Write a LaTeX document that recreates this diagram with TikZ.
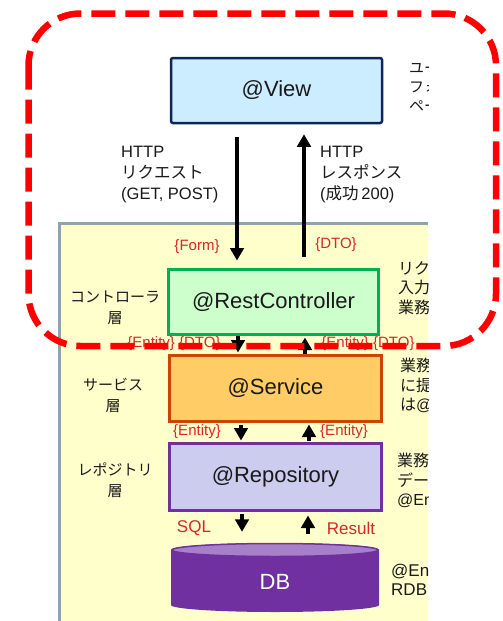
\documentclass[tikz,border=0pt]{standalone}
\usepackage{fontspec}
\setmainfont{Liberation Sans}
\newfontfamily\jp{Noto Sans CJK JP}
\usetikzlibrary{arrows.meta}

\definecolor{panelfill}{RGB}{255,255,204}
\definecolor{panelline}{RGB}{142,164,166}
\definecolor{viewfill}{RGB}{204,236,255}
\definecolor{viewline}{RGB}{12,38,90}
\definecolor{ctrlfill}{RGB}{204,255,204}
\definecolor{ctrlline}{RGB}{0,176,80}
\definecolor{svcfill}{RGB}{255,204,102}
\definecolor{svcline}{RGB}{204,68,0}
\definecolor{repofill}{RGB}{204,204,238}
\definecolor{repoline}{RGB}{112,48,160}
\definecolor{dbbody}{RGB}{112,48,160}
\definecolor{dbtop}{RGB}{166,128,200}
\definecolor{datared}{RGB}{210,40,40}
\definecolor{inktext}{RGB}{25,25,25}

\tikzset{
  layerbox/.style={draw, line width=3pt, minimum width=212pt, minimum height=66pt,
    inner sep=0pt, text=inktext, font=\fontsize{22}{26}\selectfont},
  arr/.style={line width=3.6pt, -{Triangle[length=12.5pt,width=13.5pt]}},
  datalbl/.style={text=datared, inner sep=0pt, font=\fontsize{15}{18}\selectfont},
  sqllbl/.style={text=datared, inner sep=0pt, font=\fontsize{17}{20}\selectfont},
  httplbl/.style={text=inktext, inner sep=0pt, anchor=north west, align=left,
    font=\fontsize{16.5}{21}\selectfont},
  layername/.style={text=inktext, inner sep=0pt, align=center,
    font=\jp\fontsize{15}{21}\selectfont},
  note/.style={text=inktext, inner sep=0pt, anchor=north west, align=left,
    font=\jp\fontsize{16}{19.5}\selectfont},
  reddash/.style={draw=red, line width=6.5pt, dash pattern=on 24pt off 10pt,
    rounded corners=52pt}
}

\begin{document}
\begin{tikzpicture}[x=1pt, y=-1pt]
\useasboundingbox (0,0) rectangle (503,621);
\fill[white] (0,0) rectangle (503,621);

% layer panel (cut off at the right and bottom)
\fill[panelfill] (59.5,223.5) rectangle (428,621);
\draw[panelline, line width=3pt] (428,223.5) -- (59.5,223.5) -- (59.5,621);

% boxes
\node[layerbox, draw=viewline, fill=viewfill, line width=2.5pt, rounded corners=2pt,
  minimum width=211pt, minimum height=65pt] (view) at (276.5,90.5) {@View};
\node[layerbox, draw=ctrlline, fill=ctrlfill, minimum width=210pt, minimum height=65pt]
  (rc) at (273.5,302) {@RestController};
\node[layerbox, draw=svcline, fill=svcfill] (svc) at (275.5,388.5) {@Service};
\node[layerbox, draw=repoline, fill=repofill, minimum height=67pt]
  (repo) at (275.5,477) {@Repository};

% database cylinder
\fill[dbbody] (171,550) -- (171,605)
  arc[x radius=104, y radius=7, start angle=180, end angle=0]
  -- (379,550)
  arc[x radius=104, y radius=7, start angle=0, end angle=-180] -- cycle;
\draw[dbbody, fill=dbtop, line width=1.5pt] (275,550) ellipse[x radius=103, y radius=6.5];
\node[inner sep=0pt, minimum width=208pt, minimum height=70pt] (db) at (275,578) {};
\node[text=white, inner sep=0pt, font=\fontsize{22}{26}\selectfont] (dbname) at (275,582) {DB};

% arrow columns
\coordinate (c1) at (237,0);
\coordinate (c2) at (304,0);
\coordinate (c3) at (238,0);
\coordinate (c4) at (305,0);
\coordinate (c5) at (241,0);
\coordinate (c6) at (309,0);
\coordinate (c7) at (242,0);
\coordinate (c8) at (308,0);

\draw[arr, shorten <=13pt, shorten >=7.5pt] (view.south -| c1) -- (rc.north -| c1);
\draw[arr, shorten <=11.5pt, shorten >=10pt] (rc.north -| c2) -- (view.south -| c2);
\draw[arr, shorten >=1.5pt] (rc.south -| c3) -- (svc.north -| c3);
\draw[arr, shorten >=1.5pt] (svc.north -| c4) -- (rc.south -| c4);
\draw[arr, shorten <=1.5pt, shorten >=1.5pt] (svc.south -| c5) -- (repo.north -| c5);
\draw[arr, shorten <=1.5pt, shorten >=1.5pt] (repo.north -| c6) -- (svc.south -| c6);
\draw[arr, shorten <=1.5pt, shorten >=11pt] (repo.south -| c7) -- (db.north -| c7);
\draw[arr, shorten <=9pt, shorten >=3.5pt] (db.north -| c8) -- (repo.south -| c8);

% HTTP labels
\node[httplbl] (req) at (121,146) {HTTP\\{\jp リクエスト}\\(GET, POST)};
\node[httplbl] (res) at (320,146) {HTTP\\{\jp レスポンス}\\({\jp 成功}\,200)};

% data labels
\node[datalbl] (form) at (197,247) {\{Form\}};
\node[datalbl] (dto) at (336,245) {\{DTO\}};
\node[datalbl] (ed1) at (174,344) {\{Entity\} \{DTO\}};
\node[datalbl] (ed2) at (368,344) {\{Entity\} \{DTO\}};
\node[datalbl] (e1) at (197,432) {\{Entity\}};
\node[datalbl] (e2) at (344,432) {\{Entity\}};
\node[sqllbl] (sql) at (194,528) {SQL};
\node[sqllbl] (result) at (351,528) {Result};

% layer names
\node[layername] (lc) at (115,308) {コントローラ\\層};
\node[layername] (ls) at (113,395) {サービス\\層};
\node[layername] (lr) at (115,480) {レポジトリ\\層};

% side notes, cut off at the panel edge
\begin{scope}
\clip (0,0) rectangle (428,621);
\node[note, font=\jp\fontsize{15}{19}\selectfont] (nview) at (409,61) {ユーザ\\フォーム\\ページ};
\node[note] (nrc) at (398,261) {リクエスト\\入力チェック\\業務};
\node[note] (nsvc) at (400,358) {業務ロジック\\に提供\\は{\rmfamily @Service}};
\node[note] (nrepo) at (397,453) {業務データ\\データ\\{\rmfamily @Entity}};
\node[note, font=\fontsize{17}{19}\selectfont] (ndb) at (391,564) {@Entity\\RDB};
\end{scope}

% highlighted region
\draw[reddash] (28.5,13.5) rectangle (496,346);
\end{tikzpicture}
\end{document}
